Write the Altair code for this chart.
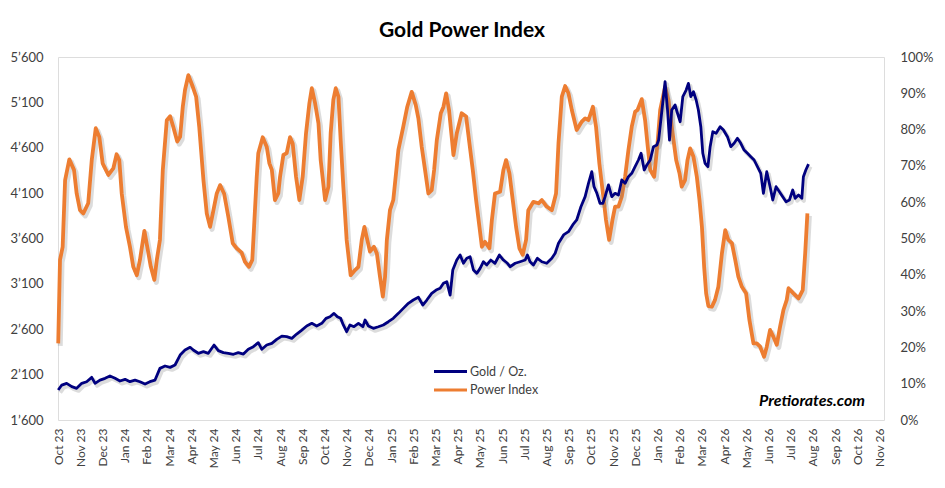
import altair as alt
import pandas as pd

# Month tick labels (x = months since Oct 2023)
months = ["Oct 23", "Nov 23", "Dec 23", "Jan 24", "Feb 24", "Mar 24", "Apr 24", "May 24",
          "Jun 24", "Jul 24", "Aug 24", "Sep 24", "Oct 24", "Nov 24", "Dec 24", "Jan 25",
          "Feb 25", "Mar 25", "Apr 25", "May 25", "Jun 25", "Jul 25", "Aug 25", "Sep 25",
          "Oct 25", "Nov 25", "Dec 25", "Jan 26", "Feb 26", "Mar 26", "Apr 26", "May 26",
          "Jun 26", "Jul 26", "Aug 26", "Sep 26", "Oct 26", "Nov 26"]

# Gold / Oz. (left axis)
gold_t = [0.01, 0.17, 0.39, 0.62, 0.84, 1.07, 1.29, 1.52, 1.67, 1.89, 2.12, 2.34, 2.57, 2.79,
          3.02, 3.24, 3.47, 3.69, 3.92, 4.14, 4.37, 4.59, 4.82, 5.05, 5.27, 5.50, 5.72, 5.95,
          6.09, 6.32, 6.55, 6.77, 7.03, 7.22, 7.45, 7.67, 7.90, 8.12, 8.35, 8.57, 8.80, 9.02,
          9.18, 9.40, 9.63, 9.85, 10.08, 10.30, 10.53, 10.75, 10.98, 11.20, 11.43, 11.65,
          11.88, 12.07, 12.25, 12.43, 12.58, 12.73, 12.85, 13.00, 13.15, 13.33, 13.53, 13.73,
          13.83, 13.98, 14.20, 14.43, 14.65, 14.88, 15.10, 15.33, 15.55, 15.78, 16.00, 16.23,
          16.43, 16.61, 16.83, 17.03, 17.21, 17.36, 17.51, 17.66, 17.78, 17.96, 18.11, 18.26,
          18.41, 18.56, 18.71, 18.86, 19.01, 19.16, 19.31, 19.49, 19.68, 19.88, 20.06, 20.24,
          20.36, 20.59, 20.81, 21.04, 21.14, 21.26, 21.41, 21.59, 21.79, 22.01, 22.24, 22.39,
          22.54, 22.77, 22.99, 23.18, 23.36, 23.55, 23.74, 23.89, 24.04, 24.14, 24.27, 24.41,
          24.54, 24.64, 24.79, 24.94, 25.09, 25.24, 25.39, 25.54, 25.69, 25.84, 25.99, 26.14,
          26.26, 26.40, 26.52, 26.67, 26.82, 26.97, 27.05, 27.20, 27.34, 27.45, 27.54, 27.64,
          27.79, 27.90, 28.02, 28.14, 28.29, 28.39, 28.50, 28.62, 28.74, 28.84, 28.95, 29.04,
          29.14, 29.27, 29.37, 29.49, 29.64, 29.82, 29.97, 30.15, 30.30, 30.45, 30.60, 30.75,
          30.90, 31.05, 31.20, 31.35, 31.50, 31.65, 31.77, 31.92, 32.07, 32.19, 32.34, 32.49,
          32.64, 32.79, 32.94, 33.09, 33.20, 33.35, 33.50, 33.57, 33.68, 33.80]
gold_v = [1930, 1985, 2004, 1967, 1949, 2004, 2022, 2070, 2004, 2040, 2059, 2085, 2059, 2030,
          2048, 2022, 2040, 2022, 1996, 2022, 2040, 2169, 2195, 2180, 2206, 2316, 2371, 2401,
          2371, 2335, 2353, 2335, 2426, 2364, 2342, 2335, 2324, 2342, 2327, 2379, 2408, 2452,
          2379, 2426, 2445, 2489, 2525, 2518, 2500, 2547, 2591, 2636, 2665, 2636,
          2665, 2720, 2738, 2775, 2738, 2720, 2647, 2573, 2647, 2628, 2665, 2628,
          2702, 2636, 2610, 2628, 2647, 2683, 2720, 2775, 2830, 2886, 2922, 2952,
          2867, 2922, 2996, 3032, 3051, 3106, 3124, 2977, 3253, 3363, 3418, 3327,
          3382, 3399, 3253, 3216, 3271, 3344, 3308, 3363, 3327, 3418, 3363, 3327,
          3289, 3327, 3344, 3363, 3418, 3344, 3308, 3382, 3344, 3327, 3382, 3437,
          3547, 3639, 3675, 3749, 3804, 3950, 4061, 4208, 4336, 4171, 4098, 3988,
          3988, 4061, 4190, 4061, 4098, 4079, 4245, 4208, 4281, 4318, 4391, 4465,
          4539, 4355, 4410, 4465, 4612, 4630, 4685, 5016, 5328, 5016, 4685, 5016,
          5071, 4980, 4887, 5163, 5236, 5310, 5163, 5218, 5126, 5016, 4832, 4539,
          4429, 4391, 4612, 4777, 4759, 4832, 4796, 4722, 4612, 4649, 4704, 4649,
          4575, 4539, 4502, 4465, 4391, 4318, 4098, 4336, 4171, 4024, 4171, 4116,
          4061, 4005, 4024, 4134, 4043, 4079, 4043, 4281, 4355, 4420]

# Power Index in % (right axis)
power_t = [0.01, 0.09, 0.21, 0.32, 0.51, 0.72, 0.84, 0.99, 1.14, 1.36, 1.52, 1.70, 1.86, 2.01,
           2.27, 2.49, 2.64, 2.76, 2.87, 3.06, 3.24, 3.39, 3.55, 3.69, 3.89, 4.02, 4.18, 4.34,
           4.45, 4.59, 4.72, 4.90, 5.05, 5.19, 5.37, 5.50, 5.62, 5.72, 5.87, 6.07, 6.22, 6.36,
           6.55, 6.70, 6.85, 7.00, 7.15, 7.30, 7.48, 7.67, 7.87, 8.05, 8.27, 8.42, 8.60, 8.75,
           8.83, 8.95, 9.02, 9.22, 9.40, 9.52, 9.63, 9.77, 9.92, 10.00, 10.15, 10.30, 10.45,
           10.57, 10.72, 10.87, 11.02, 11.17, 11.32, 11.43, 11.58, 11.73, 11.83, 12.03, 12.18,
           12.28, 12.40, 12.51, 12.63, 12.73, 12.85, 13.00, 13.18, 13.38, 13.53, 13.68, 13.80,
           13.93, 14.05, 14.23, 14.36, 14.50, 14.63, 14.73, 14.81, 14.95, 15.10, 15.33, 15.55,
           15.73, 15.93, 16.11, 16.23, 16.38, 16.53, 16.68, 16.83, 16.94, 17.06, 17.24, 17.36,
           17.48, 17.61, 17.73, 17.81, 17.96, 18.18, 18.38, 18.53, 18.68, 18.83, 18.98, 19.09,
           19.23, 19.43, 19.54, 19.68, 19.91, 20.06, 20.18, 20.33, 20.48, 20.63, 20.78, 20.93,
           21.08, 21.18, 21.41, 21.64, 21.79, 22.01, 22.24, 22.43, 22.54, 22.69, 22.84, 22.99,
           23.14, 23.36, 23.59, 23.74, 23.89, 24.09, 24.23, 24.38, 24.56, 24.68, 24.82, 24.97,
           25.09, 25.24, 25.39, 25.54, 25.69, 25.84, 25.99, 26.10, 26.29, 26.44, 26.56, 26.67,
           26.85, 27.00, 27.12, 27.34, 27.49, 27.64, 27.84, 27.99, 28.09, 28.24, 28.35, 28.47,
           28.62, 28.77, 28.89, 29.00, 29.10, 29.19, 29.29, 29.45, 29.59, 29.74, 29.90, 30.05,
           30.19, 30.35, 30.50, 30.64, 30.80, 30.99, 31.14, 31.32, 31.47, 31.62, 31.80, 31.92,
           32.07, 32.22, 32.37, 32.52, 32.67, 32.82, 32.90, 33.12, 33.35, 33.54, 33.65, 33.75]
power_v = [21.1, 44.1, 47.7, 66.1, 71.8, 68.9, 62.4, 57.8, 56.9, 59.7, 71.6, 80.4, 78.0, 70.7,
           67.5, 69.3, 73.2, 71.6, 62.4, 53.2, 47.7, 42.2, 39.9, 44.1, 52.1, 47.7, 42.2, 38.6,
           44.1, 49.6, 68.9, 82.6, 83.7, 80.8, 76.7, 78.0, 86.3, 90.9, 95.0, 91.8, 89.1, 80.8,
           66.1, 56.9, 53.2, 57.8, 62.4, 64.7, 62.4, 56.0, 48.7, 47.3, 46.1, 43.6, 42.2, 44.1,
           53.2, 67.0, 73.5, 77.9, 75.3, 70.7, 68.9, 60.6, 62.4, 67.0, 73.0, 73.5, 77.9,
           76.2, 67.0, 60.6, 67.0, 79.0, 87.2, 91.4, 87.2, 81.7, 71.6, 60.6, 64.3,
           79.0, 88.2, 91.4, 89.1, 77.1, 64.3, 49.6, 39.9, 41.3, 42.2, 49.6, 53.2,
           49.6, 46.4, 47.7, 45.9, 39.5, 34.0, 39.5, 49.6, 57.8, 60.6, 74.4, 80.8,
           86.3, 90.4, 86.8, 83.1, 75.3, 68.9, 62.4, 63.3, 68.9, 77.1, 84.5, 86.3,
           90.0, 85.4, 78.0, 73.0, 79.0, 84.5, 83.6, 76.2, 68.9, 60.6, 53.2, 47.7,
           49.1, 47.3, 55.1, 62.4, 62.9, 68.9, 71.6, 68.0, 60.6, 53.2, 47.3, 45.5,
           49.6, 57.8, 60.1, 59.7, 60.6, 58.8, 57.8, 62.4, 76.2, 89.1, 92.0, 90.0,
           85.4, 79.9, 82.2, 83.1, 82.6, 86.3, 80.8, 70.7, 61.5, 55.1, 49.6, 55.1,
           58.8, 58.8, 61.5, 67.0, 74.4, 80.8, 84.9, 85.4, 88.4, 82.6, 75.3, 68.9,
           67.0, 76.2, 85.4, 91.8, 88.2, 80.8, 71.6, 68.0, 64.3, 66.1, 71.6, 74.8,
           72.5, 67.0, 60.6, 53.2, 42.2, 34.9, 31.4, 31.2, 33.1, 36.7, 45.9, 52.3,
           49.6, 48.7, 44.1, 39.5, 36.7, 34.9, 27.5, 21.1, 21.1, 20.2, 17.4, 20.2,
           24.8, 22.9, 20.7, 25.7, 30.3, 33.1, 36.3, 34.9, 33.5, 35.8, 45.9, 56.9]

gold_ticks = [1600, 2100, 2600, 3100, 3600, 4100, 4600, 5100, 5600]
power_ticks = [0, 10, 20, 30, 40, 50, 60, 70, 80, 90, 100]

gold_df = pd.DataFrame({"t": gold_t, "v": gold_v, "series": "Gold / Oz."})
power_df = pd.DataFrame({"t": power_t, "v": power_v, "series": "Power Index"})

FONT = "Lato"
LABEL_COLOR = "#404040"

month_expr = "[" + ",".join("'%s'" % m for m in months) + "][round(datum.value)]"

x_enc = alt.X(
    "t:Q",
    scale=alt.Scale(domain=[0, 37.2], nice=False, zero=False),
    axis=alt.Axis(values=list(range(len(months))), labelExpr=month_expr, labelAngle=-90,
                  labelAlign="right", labelBaseline="middle", labelPadding=8,
                  labelFontSize=12, labelFont=FONT, labelColor=LABEL_COLOR,
                  ticks=False, domain=False, grid=False, title=None,
                  labelOverlap=False, labelFlush=False, labelBound=False),
)

gold_y = alt.Y(
    "v:Q",
    scale=alt.Scale(domain=[1600, 5600], nice=False, zero=False),
    axis=alt.Axis(orient="left", values=gold_ticks,
                  labelExpr="replace(format(datum.value, ','), ',', '\u2019')",
                  labelFontSize=13, labelFont=FONT, labelColor=LABEL_COLOR,
                  labelPadding=15, ticks=False, domain=False, grid=False, title=None,
                  minExtent=50, maxExtent=50, labelFlush=False),
)
power_y = alt.Y(
    "v:Q",
    scale=alt.Scale(domain=[0, 100], nice=False, zero=False),
    axis=alt.Axis(orient="right", values=power_ticks, labelExpr="datum.value + '%'",
                  labelFontSize=13, labelFont=FONT, labelColor=LABEL_COLOR,
                  labelPadding=16, labelAlign="left", ticks=False, domain=False,
                  grid=False, title=None, labelFlush=False),
)

color_enc = alt.Color(
    "series:N",
    scale=alt.Scale(domain=["Gold / Oz.", "Power Index"], range=["#00007F", "#ED7D31"]),
    legend=alt.Legend(orient="none", legendX=386, legendY=308, title=None,
                      symbolType="M-3.3,0H3.3", symbolSize=100, symbolStrokeWidth=3,
                      symbolOffset=0,
                      labelFontSize=12.5, labelFont=FONT, labelColor=LABEL_COLOR,
                      padding=0, rowPadding=5.5, labelOffset=13),
)

SHADOW = dict(color="#808080", opacity=0.28, xOffset=2, yOffset=2.5, strokeJoin="round")

power_shadow = alt.Chart(power_df).mark_line(strokeWidth=5, **SHADOW).encode(
    x=x_enc, y=power_y)
power_line = alt.Chart(power_df).mark_line(strokeWidth=3.8, strokeJoin="round").encode(
    x=x_enc, y=power_y, color=color_enc)
gold_shadow = alt.Chart(gold_df).mark_line(strokeWidth=4, **SHADOW).encode(
    x=x_enc, y=gold_y)
gold_line = alt.Chart(gold_df).mark_line(strokeWidth=2.8, strokeJoin="round").encode(
    x=x_enc, y=gold_y, color=color_enc)

power_group = alt.layer(power_shadow, power_line)
gold_group = alt.layer(gold_shadow, gold_line)

wm_df = pd.DataFrame({"label": ["Pretiorates.com"]})
wm = alt.Chart(wm_df).mark_text(
    font=FONT, fontSize=16, fontWeight="bold", fontStyle="italic", color="#000000",
    align="center", baseline="middle",
).encode(x=alt.value(754), y=alt.value(344), text="label:N")

chart = alt.layer(power_group, gold_group, wm).resolve_scale(
    y="independent"
).properties(
    width=826, height=363,
    title=alt.TitleParams("Gold Power Index", fontSize=21, font=FONT, fontWeight="bold",
                          color="#000000", anchor="middle", frame="group", offset=10, dx=-9),
    padding={"left": 0, "top": 12, "right": 0, "bottom": 0},
).configure_view(stroke=None).configure(background="white")

chart.save("out.html", embed_options={"renderer": "svg", "actions": False})
